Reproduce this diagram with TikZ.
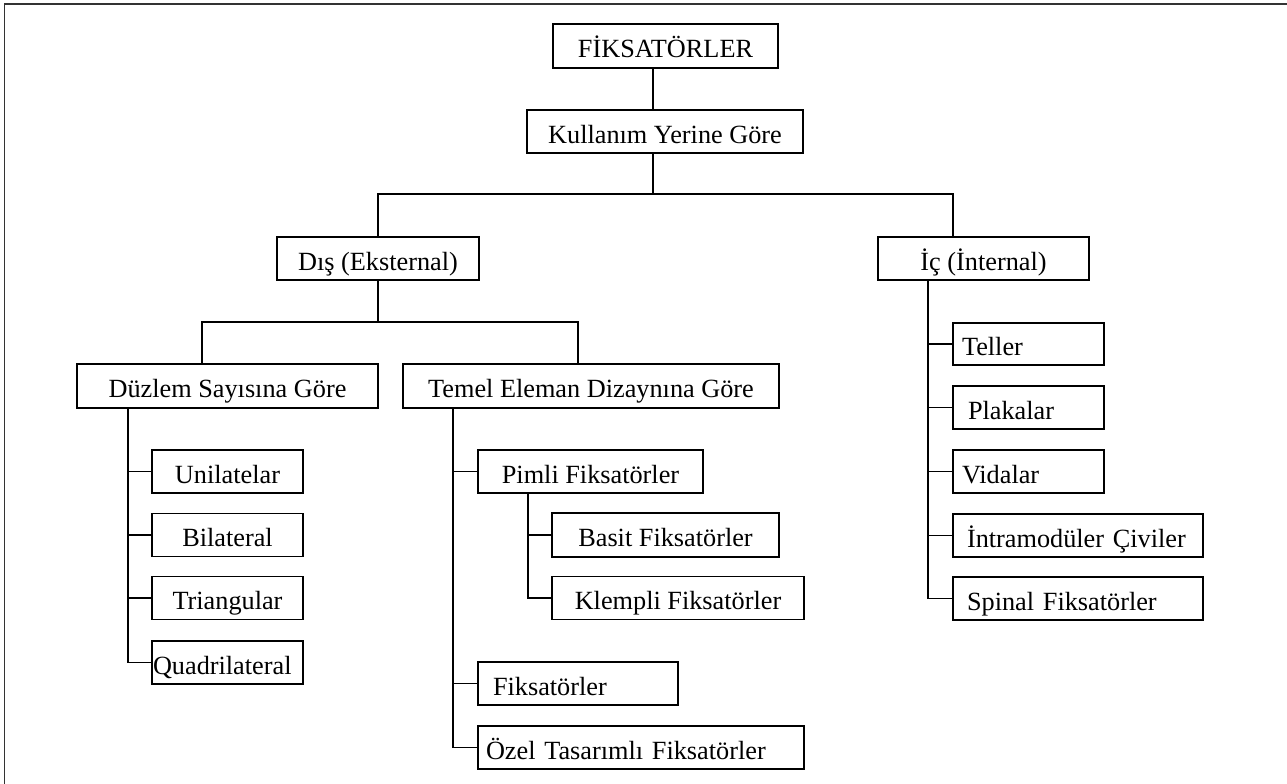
\documentclass[tikz,border=0pt]{standalone}
\usepackage{fontspec}
\setmainfont{Liberation Serif}
\begin{document}
\begin{tikzpicture}[x=0.75pt,y=-0.75pt,
  box/.style={draw, line width=1.1pt, inner ysep=0pt, inner xsep=0pt,
    text height=17.7pt, text depth=0pt,
    font=\fontsize{19.7}{23}\selectfont},
  sz/.style 2 args={minimum width=#1*0.75pt, minimum height=#2*0.75pt},
  conn/.style={line width=1.1pt},
  frame/.style={line width=1pt, draw=black!80}]
\useasboundingbox (0,0) rectangle (1287,784);
\draw[frame] (4.5,784) -- (4.5,4) -- (1287,4);

% level nodes
\node[box, sz={225}{44}] (root) at (665.5,46) {FİKSATÖRLER};
\node[box, sz={276}{43}] (kyg) at (665,131.5) {Kullanım Yerine Göre};
\node[box, sz={202}{43}] (dis) at (378,258.5) {Dış (Eksternal)};
\node[box, sz={211}{43}] (ic) at (983.5,258.5) {İç (İnternal)};
\node[box, sz={301}{44}] (duz) at (227.5,386) {Düzlem Sayısına Göre};
\node[box, sz={376}{44}] (tem) at (591,386) {Temel Eleman Dizaynına Göre};

% Düzlem children
\node[box, sz={151}{43}] (uni) at (227.5,471.5) {Unilatelar};
\node[box, sz={151}{43}] (bil) at (227.5,535) {Bilateral};
\node[box, sz={151}{43}] (tri) at (227.5,598) {Triangular};
\node[box, minimum height=43*0.75pt, text width=111.75pt, inner xsep=0.75pt, align=left] (quad) at (227.5,662.5) {Quadrilateral};

% Temel children
\node[box, sz={225}{43}] (pim) at (590.5,471.5) {Pimli Fiksatörler};
\node[box, sz={227}{44}] (bas) at (665.5,535) {Basit Fiksatörler};
\node[box, sz={252}{43}] (kle) at (678,598) {Klempli Fiksatörler};
\node[box, minimum height=43*0.75pt, text width=127.5pt, inner xsep=11.25pt, align=left] (fik) at (578,683.5) {Fiksatörler};
\node[box, minimum height=43*0.75pt, text width=232.5pt, inner xsep=6pt, align=left] (oze) at (641,747.5) {Özel Tasarımlı Fiksatörler};

% İç children
\node[box, minimum height=42*0.75pt, text width=99.75pt, inner xsep=6.75pt, align=left] (tel) at (1028.5,344) {Teller};
\node[box, minimum height=43*0.75pt, text width=90.75pt, inner xsep=11.25pt, align=left] (pla) at (1028.5,407.5) {Plakalar};
\node[box, minimum height=43*0.75pt, text width=99.75pt, inner xsep=6.75pt, align=left] (vid) at (1028.5,471.5) {Vidalar};
\node[box, minimum height=43*0.75pt, text width=166.5pt, inner xsep=10.5pt, align=left] (int) at (1078,535.5) {İntramodüler Çiviler};
\node[box, minimum height=43*0.75pt, text width=166.5pt, inner xsep=10.5pt, align=left] (spi) at (1078,598.5) {Spinal Fiksatörler};

% trunk coordinates
\coordinate (x0) at (653,0);
\coordinate (xic) at (953,0);
\coordinate (b0) at (0,194);
\coordinate (b1) at (0,322);
\coordinate (xd) at (128,0);
\coordinate (xt) at (453,0);
\coordinate (xp) at (528,0);
\coordinate (xi) at (928,0);
\coordinate (xdl) at (202,0);
\coordinate (xtr) at (578,0);

% connectors
\draw[conn] (root.south -| x0) -- (kyg.north -| x0);
\draw[conn] (kyg.south -| x0) -- (b0 -| x0);
\draw[conn] (dis.north) |- (b0 -| x0) -| (ic.north -| xic);
\draw[conn] (dis.south) -- (b1 -| dis.south);
\draw[conn] (duz.north -| xdl) |- (b1 -| dis.south) -| (tem.north -| xtr);

\draw[conn] (duz.south -| xd) |- (quad.west);
\foreach \n in {uni,bil,tri} \draw[conn] (\n.west) -- (\n.west -| xd);

\draw[conn] (tem.south -| xt) |- (oze.west);
\foreach \n in {pim,fik} \draw[conn] (\n.west) -- (\n.west -| xt);

\draw[conn] (pim.south -| xp) |- (kle.west);
\draw[conn] (bas.west) -- (bas.west -| xp);

\draw[conn] (ic.south -| xi) |- (spi.west);
\foreach \n in {tel,pla,vid,int} \draw[conn] (\n.west) -- (\n.west -| xi);
\end{tikzpicture}
\end{document}
